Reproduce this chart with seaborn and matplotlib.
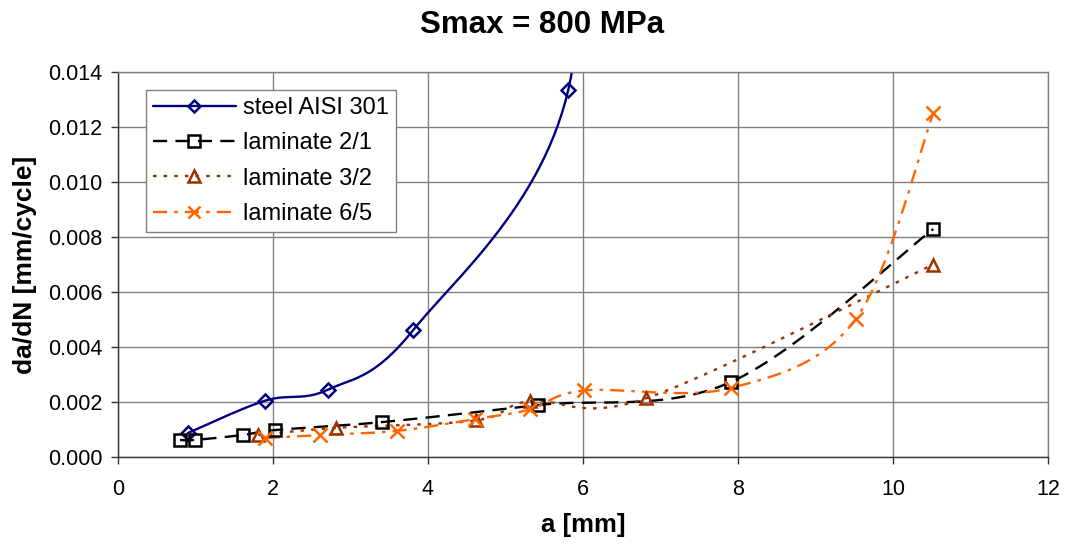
import numpy as np
import pandas as pd
import matplotlib
matplotlib.use("Agg")
import matplotlib.pyplot as plt
from matplotlib.lines import Line2D
import seaborn as sns

# ---- data ----
steel_a = [0.90, 1.90, 2.71, 3.81, 5.81, 5.90]
steel_v = [0.00087, 0.00205, 0.00245, 0.00462, 0.01335, 0.0300]

lam21_a = [0.80, 0.99, 1.61, 2.03, 3.41, 5.42, 7.91, 10.52]
lam21_v = [0.00062, 0.00062, 0.00080, 0.00098, 0.00127, 0.00189, 0.00273, 0.00829]

lam32_a = [1.81, 2.81, 4.62, 5.32, 6.81, 10.52]
lam32_v = [0.00080, 0.00106, 0.00133, 0.00204, 0.00213, 0.00700]

lam65_a = [1.90, 2.61, 3.60, 4.61, 5.32, 6.01, 7.91, 9.52, 10.52]
lam65_v = [0.00069, 0.00080, 0.00095, 0.00138, 0.00173, 0.00242, 0.00251, 0.00502, 0.01250]

labels = ["steel AISI 301", "laminate 2/1", "laminate 3/2", "laminate 6/5"]
title = "Smax = 800 MPa"
xlabel = "a [mm]"
ylabel = "da/dN [mm/cycle]"


def smooth(xs, ys, n=30):
    """Excel-like smoothed line (cubic Bezier through the points)."""
    P = np.column_stack([xs, ys]).astype(float)
    sx, sy = 12.0 / 930.0, 0.014 / 385.0
    Q = P / np.array([sx, sy])
    out = [Q[0]]
    m = len(Q)
    for i in range(m - 1):
        p0 = Q[i - 1] if i > 0 else Q[i]
        p1 = Q[i]
        p2 = Q[i + 1]
        p3 = Q[i + 2] if i + 2 < m else Q[i + 1]
        c1 = p1 + (p2 - p0) / 6.0
        c2 = p2 - (p3 - p1) / 6.0
        t = np.linspace(0, 1, n)[1:, None]
        seg = ((1 - t) ** 3) * p1 + 3 * ((1 - t) ** 2) * t * c1 + 3 * (1 - t) * t ** 2 * c2 + t ** 3 * p2
        out.extend(seg)
    out = np.array(out) * np.array([sx, sy])
    return out[:, 0], out[:, 1]


sns.set_theme(style="white")
plt.rcParams['font.family'] = ['Liberation Sans', 'DejaVu Sans']
plt.rcParams['text.color'] = 'black'
plt.rcParams['axes.labelcolor'] = 'black'
plt.rcParams['xtick.color'] = 'black'
plt.rcParams['ytick.color'] = 'black'

fig = plt.figure(figsize=(10.65, 5.44), dpi=100)
ax = fig.add_axes([118 / 1065, 1 - 457 / 544, 930 / 1065, 385 / 544])

series = [
    (steel_a, steel_v, "#000080", "-", "D", 7),
    (lam21_a, lam21_v, "#000000", (0, (6, 3.5)), "s", 9),
    (lam32_a, lam32_v, "#993300", (0, (1.5, 3)), "^", 9),
    (lam65_a, lam65_v, "#FF6600", (0, (6, 3, 1.5, 3)), "x", 10),
]

handles = []
for (xs, ys, col, ls, mk, ms), lab in zip(series, labels):
    cx, cy = smooth(xs, ys)
    df = pd.DataFrame({"a": cx, "v": cy})
    sns.lineplot(data=df, x="a", y="v", ax=ax, color=col, sort=False,
                 estimator=None, linewidth=1.7)
    ln = ax.lines[-1]
    ln.set_linestyle(ls)
    mdf = pd.DataFrame({"a": xs, "v": ys})
    ax.plot(mdf["a"], mdf["v"], linestyle="none", marker=mk, markersize=ms,
            markerfacecolor="none", markeredgecolor=col, markeredgewidth=1.8, zorder=5)
    handles.append(Line2D([0], [0], color=col, linestyle=ls, linewidth=1.7, marker=mk,
                          markersize=ms * 0.9, markerfacecolor="none",
                          markeredgecolor=col, markeredgewidth=1.8))

ax.set_xlim(0, 12)
ax.set_ylim(0, 0.014)
ax.set_xticks(np.arange(0, 13, 2))
ax.set_yticks(np.arange(0, 0.0141, 0.002))
ax.yaxis.set_major_formatter(matplotlib.ticker.FormatStrFormatter("%.3f"))
ax.grid(True, color="#808080", linewidth=1.0)
ax.set_axisbelow(True)
for name, s in ax.spines.items():
    s.set_color("#808080" if name in ("top", "right") else "#333333")
    s.set_linewidth(1.0)
ax.tick_params(axis="both", which="major", labelsize=15.5, direction="out",
               length=5, width=1, color="#333333", bottom=True, left=True)
ax.tick_params(axis="x", pad=11)
ax.tick_params(axis="y", pad=6)
ax.set_xlabel(xlabel, fontsize=18.5, fontweight="bold", labelpad=9)
ax.set_ylabel(ylabel, fontsize=19, fontweight="bold", labelpad=8)
fig.text(542 / 1065, 1 - 25 / 544, title, ha="center", va="center",
         fontsize=22.5, fontweight="bold")

leg = ax.legend(handles, labels, loc="upper left", bbox_to_anchor=(0.030, 0.953),
                frameon=True, fancybox=False, fontsize=17, handlelength=3.5,
                borderpad=0.3, labelspacing=0.56, handletextpad=0.3, borderaxespad=0)
leg.get_frame().set_edgecolor("#808080")
leg.get_frame().set_linewidth(1.0)
leg.get_frame().set_alpha(1)

fig.savefig("out.png", dpi=100)
